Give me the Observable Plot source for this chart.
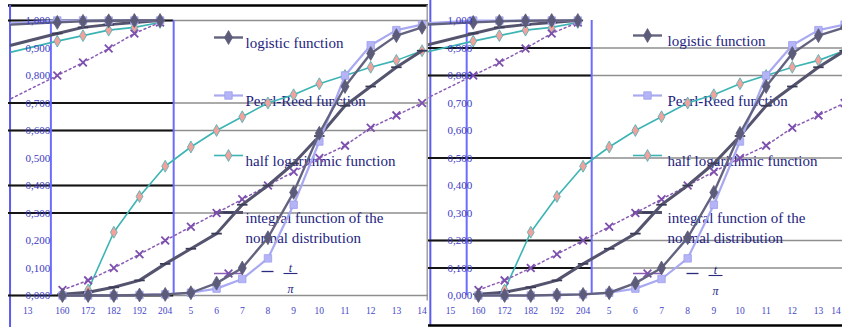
<!DOCTYPE html>
<html><head><meta charset="utf-8">
<script src="https://cdn.jsdelivr.net/npm/d3@7"></script>
<script src="https://cdn.jsdelivr.net/npm/@observablehq/plot@0.6"></script>
<style>
body{margin:0;background:#fff;}
#wrap{position:relative;width:842px;height:327px;overflow:hidden;background:#fff;}
#wrap svg{position:absolute;top:0;}
</style></head><body><div id="wrap"></div>
<script>
// ---------- data (category index on the x axis) ----------
const catIdx     = [2, 3, 4, 5, 6, 7, 8, 9, 10, 11, 12, 13, 14, 15, 16];
const logistic   = [0, 0, 0, 0.002, 0.004, 0.01, 0.045, 0.10, 0.21, 0.375, 0.59, 0.76, 0.88, 0.945, 0.975];
const pearlReed  = [0, 0, 0, 0.002, 0.004, 0.01, 0.025, 0.06, 0.135, 0.33, 0.56, 0.80, 0.91, 0.965, 0.985];
const halfLog    = [null, 0.02, 0.23, 0.36, 0.47, 0.54, 0.60, 0.65, 0.70, 0.73, 0.77, 0.80, 0.83, 0.855, 0.89];
const normalInt  = [0.005, 0.012, 0.03, 0.055, 0.115, 0.17, 0.225, 0.33, 0.40, 0.48, 0.58, 0.69, 0.76, 0.83, 0.89];
const linearFn   = [0.02, 0.055, 0.10, 0.15, 0.20, 0.25, 0.30, 0.35, 0.40, 0.45, 0.50, 0.545, 0.61, 0.655, 0.70];

// continuation drawn in the upper-left box
const contIdx       = [0, 1.8, 2.8, 3.8, 4.8, 5.8];
const contLogistic  = [0.985, 0.993, 0.997, 0.999, 1, 1];
const contPearlReed = [0.99, 1, 1, 1, 1, 1];
const contHalfLog   = [0.885, 0.925, 0.945, 0.965, 0.975, 0.993];
const contNormalInt = [0.91, 0.953, 0.975, 0.985, 0.993, 1.0];
const contLinearFn  = [0.716, 0.80, 0.847, 0.898, 0.953, 0.993];

const yTicks = [0, 0.1, 0.2, 0.3, 0.4, 0.5, 0.6, 0.7, 0.8, 0.9, 1.0];
const xTickPos = [2, 3, 4, 5, 6, 7, 8, 9, 10, 11, 12, 13, 14, 15, 16];
const xTickLabels = ["160", "172", "182", "192", "204", "5", "6", "7", "8", "9", "10", "11", "12", "13", "14"];
const legendLabels = ["logistic function", "Pearl-Reed function", "half logarithmic function", "integral function of the", "normal distribution"];
const boxEdges = [1.55, 6.33];

// ---------- helpers ----------
const main = catIdx.map((x, i) => ({x, logistic: logistic[i], pearl: pearlReed[i], half: halfLog[i], normal: normalInt[i], lin: linearFn[i]}));
const cont = contIdx.map((x, i) => ({x, logistic: contLogistic[i], pearl: contPearlReed[i], half: contHalfLog[i], normal: contNormalInt[i], lin: contLinearFn[i]}));
const contM = cont.filter(d => d.x > 1);

const dash = {draw(ctx, size) { const r = Math.sqrt(size / Math.PI) * 1.5; ctx.moveTo(-r, 0); ctx.lineTo(r, 0); }};
const seg = (h) => ({draw(ctx) { ctx.moveTo(-h, 0); ctx.lineTo(h, 0); }});
const fmt = d => d3.format(".3f")(d).replace(".", ",");

const ST = {
  half:     {stroke: "#3db4b4", sw: 1.6, symbol: "diamond", fill: "#f4a19d", mstroke: "#3db4b4", r: 3.6},
  lin:      {stroke: "#8a5cb4", sw: 1.5, dash: "2,3", symbol: "times", fill: "none", mstroke: "#7d4fae", r: 3.6},
  normal:   {stroke: "#54546e", sw: 3, symbol: dash, fill: "none", mstroke: "#3c3c58", r: 3.5},
  pearl:    {stroke: "#a9a9f2", sw: 2.2, symbol: "square", fill: "#b4b4f7", mstroke: "#a0a0ee", r: 4.2},
  logistic: {stroke: "#63637f", sw: 2.4, symbol: "diamond", fill: "#5c5c7a", mstroke: "#5c5c7a", r: 4.2}
};

function seriesMarks() {
  const out = [];
  for (const k of ["half", "lin", "normal", "pearl", "logistic"]) {
    const s = ST[k];
    for (const data of [main, cont]) {
      out.push(Plot.line(data, {x: "x", y: k, stroke: s.stroke, strokeWidth: s.sw, strokeDasharray: s.dash}));
    }
    for (const data of [main, contM]) {
      out.push(Plot.dot(data, {x: "x", y: k, symbol: s.symbol, r: s.r, fill: s.fill, stroke: s.mstroke,
        strokeWidth: (k === "normal" || k === "lin") ? 1.8 : 0.8}));
    }
  }
  return out;
}

function legendMarks(L) {
  const keys = ["logistic", "pearl", "half", "normal", "lin"];
  const rowY = [L.r1, L.r2, L.r3, L.r4, L.r5];
  const out = [];
  keys.forEach((k, i) => {
    const s = ST[k];
    out.push(Plot.dot([0], {frameAnchor: "top-left", dx: L.sx, dy: rowY[i], symbol: seg(14.5), stroke: s.stroke,
      strokeWidth: s.sw, strokeDasharray: k === "lin" ? null : s.dash}));
    out.push(Plot.dot([0], {frameAnchor: "top-left", dx: L.sx, dy: rowY[i], symbol: s.symbol, r: s.r, fill: s.fill,
      stroke: s.mstroke, strokeWidth: (k === "normal" || k === "lin") ? 1.8 : 0.8}));
  });
  const tStyle = {frameAnchor: "top-left", textAnchor: "start", fontSize: 15, fontFamily: "Liberation Serif, serif", fill: "#1d1d7e"};
  legendLabels.forEach((t, i) => {
    const dy = [L.r1, L.r2, L.r3, L.r4, L.r4 + 20][i];
    out.push(Plot.text([t], {...tStyle, text: d => d, dx: L.tx, dy}));
  });
  // formula item
  out.push(Plot.dot([0], {frameAnchor: "top-left", dx: L.fx, dy: L.fy, symbol: seg(6), stroke: "#2a2a7e", strokeWidth: 1.3}));
  out.push(Plot.dot([0], {frameAnchor: "top-left", dx: L.fx + 23, dy: L.fy + 2, symbol: seg(7), stroke: "#2a2a7e", strokeWidth: 1.1}));
  out.push(Plot.text(["t"], {...tStyle, fontSize: 12, fontStyle: "italic", text: d => d, textAnchor: "middle", dx: L.fx + 23, dy: L.fy - 8}));
  out.push(Plot.text(["π"], {...tStyle, fontSize: 12, fontStyle: "italic", text: d => d, textAnchor: "middle", dx: L.fx + 23, dy: L.fy + 13}));
  return out;
}

function panel(cfg) {
  const xmax = cfg.xDomain[1];
  const labStyle = {frameAnchor: "bottom", dy: 18, fontSize: 9.5, fontFamily: "Liberation Serif, serif", fill: "#4646c8"};
  return Plot.plot({
    width: cfg.width, height: 327,
    marginLeft: cfg.ml, marginRight: cfg.mr, marginTop: 20, marginBottom: 32,
    x: {domain: cfg.xDomain, axis: null},
    y: {domain: [0, 1], axis: null},
    style: {background: "white", overflow: "hidden"},
    marks: [
      ...cfg.borders,
      Plot.ruleY(cfg.grid, {stroke: "#8e8e8e", strokeWidth: 1.7}),
      Plot.ruleY(cfg.grid, {x1: cfg.xDomain[0], x2: boxEdges[1], stroke: "#141414", strokeWidth: 2.2}),
      Plot.ruleX(boxEdges, {stroke: "#6c6cff", strokeWidth: 2}),
      ...legendMarks(cfg.leg),
      ...seriesMarks(),
      Plot.text(yTicks, {y: d => d, text: fmt, frameAnchor: "left", dx: cfg.ylabDx, fontSize: 11, fontFamily: "Liberation Serif, serif", fill: "#3a3ac4"}),
      Plot.text(xTickLabels, {...labStyle, x: (d, i) => Math.min(xTickPos[i], xmax - 0.25), text: d => d}),
      Plot.text([cfg.firstLabel], {...labStyle, x: cfg.firstPos, text: d => d})
    ]
  });
}

const wrap = document.getElementById("wrap");

const left = panel({
  width: 430, ml: 8, mr: 2, xDomain: [-0.1, 16.25],
  grid: [1.0, 0.7, 0.6, 0.4, 0.3, 0.0],
  ylabDx: 17, firstLabel: "13", firstPos: 0.65,
  borders: [
    Plot.ruleY([1.0545], {x1: -0.1, x2: 16.25, stroke: "#000", strokeWidth: 2.5}),
    Plot.ruleX([-0.04], {y1: 1.0545, y2: -0.12, stroke: "#5c5cf2", strokeWidth: 2}),
    Plot.ruleX([16.2], {y1: 1.0545, y2: -0.02, stroke: "#a0a0a0", strokeWidth: 1.5})
  ],
  leg: {sx: 220, tx: 237, r1: 17, r2: 75, r3: 135, r4: 192, r5: 253, fx: 259, fy: 251}
});
left.style.left = "0px";
wrap.appendChild(left);

const right = panel({
  width: 414, ml: 0, mr: 0, xDomain: [0.09, 15.92],
  grid: [0.9, 0.8, 0.5, 0.2, 0.1],
  ylabDx: 19, firstLabel: "15", firstPos: 0.93,
  borders: [
    Plot.ruleX([0.16], {y1: 1.08, y2: -0.109, stroke: "#5c5cf2", strokeWidth: 2}),
    Plot.ruleY([-0.109], {x1: 0.09, x2: 15.92, stroke: "#000", strokeWidth: 2.5})
  ],
  leg: {sx: 219, tx: 239, r1: 15, r2: 75, r3: 135, r4: 192, r5: 253, fx: 264, fy: 253}
});
right.style.left = "428px";
wrap.appendChild(right);
</script>
</body></html>
